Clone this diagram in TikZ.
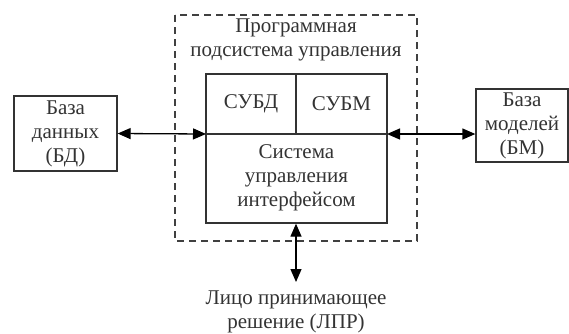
\documentclass[tikz,border=0pt]{standalone}
\usepackage{fontspec}
\setmainfont{Liberation Serif}
\usetikzlibrary{arrows.meta}
\begin{document}
\begin{tikzpicture}[x=1pt,y=-1pt,
  box/.style={draw=black!80,line width=1.3pt},
  txt/.style={align=center,font=\fontsize{21}{24}\selectfont,text=black!80,inner sep=0pt},
  conn/.style={line width=1.3pt,{Triangle[length=13pt,width=11pt]}-{Triangle[length=13pt,width=11pt]}}]
\useasboundingbox (0,0) rectangle (569,333);
% dashed outer frame
\draw[dashed,dash pattern=on 7pt off 5pt,line width=1.2pt,draw=black!75] (175,15) rectangle (417,241);
% left box
\node[box,minimum width=103pt,minimum height=75pt,inner sep=0pt] (bd) at (65.5,133.5) {};
\node[txt] at (bd) {База\\данных\\(БД)};
% right box
\node[box,minimum width=92pt,minimum height=73pt,inner sep=0pt] (bm) at (522,125.5) {};
\node[txt] at (bm) {База\\моделей\\(БМ)};
% inner box
\node[box,minimum width=181pt,minimum height=149pt,inner sep=0pt] (in) at (296.5,148.5) {};
\coordinate (tl) at (206,134);
\coordinate (tr) at (387,134);
\coordinate (dt) at (296,74);
\coordinate (db) at (296,134);
\draw[box] (tl) -- (tr);
\draw[box] (dt) -- (db);
\node[txt] (subd) at (251,104) {СУБД};
\node[txt] (subm) at (341.5,104) {СУБМ};
\node[txt] (sui) at (296.5,178) {Система\\управления\\интерфейсом};
\node[txt] (title) at (296,40) {Программная\\подсистема управления};
% decision maker
\coordinate (lprtop) at (296,282);
\node[txt] (lpr) at (296,312) {Лицо принимающее\\решение (ЛПР)};
% connectors
\draw[conn] (bd.east) -- (tl);
\draw[conn] (tr) -- (bm.west |- tr);
\draw[conn] (in.south -| dt) -- (lprtop);
\end{tikzpicture}
\end{document}
